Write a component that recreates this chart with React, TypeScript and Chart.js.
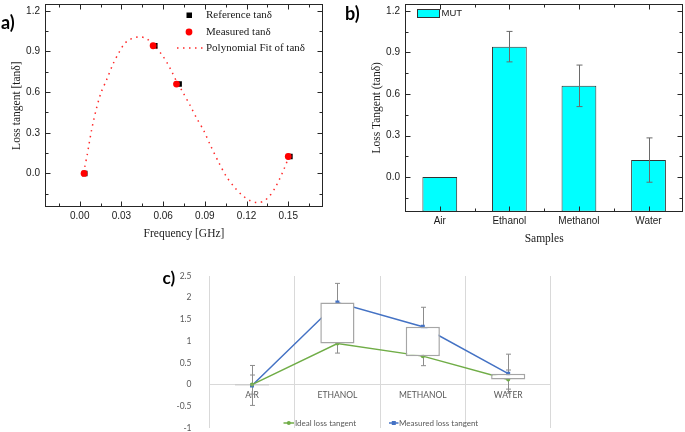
import React, { useEffect, useRef } from "react";
import { Chart, registerables } from "chart.js";
Chart.register(...registerables);

// ---------- Panel a) data ----------
const fitFreq = [0.0036, 0.0053, 0.0067, 0.0084, 0.0101, 0.012, 0.0137, 0.0156, 0.0192, 0.024, 0.0283, 0.0319, 0.0355, 0.0396, 0.0439, 0.048, 0.0528, 0.0595, 0.0629, 0.0665, 0.0696, 0.0744, 0.0792, 0.084, 0.0893, 0.0941, 0.1003, 0.1056, 0.1109, 0.1164, 0.1224, 0.1272, 0.132, 0.1363, 0.1404, 0.144, 0.1471, 0.150];
const fitTan = [0.048, 0.133, 0.217, 0.314, 0.398, 0.478, 0.543, 0.604, 0.688, 0.809, 0.893, 0.954, 0.985, 1.002, 1.007, 0.995, 0.954, 0.87, 0.815, 0.745, 0.68, 0.595, 0.505, 0.41, 0.314, 0.205, 0.075, -0.025, -0.097, -0.157, -0.2, -0.215, -0.206, -0.17, -0.109, -0.036, 0.036, 0.112];
const refFreq = [0.0036, 0.054, 0.0715, 0.1512];
const refTan = [0.0, 0.942, 0.659, 0.125];
const measFreq = [0.0031, 0.0528, 0.0696, 0.150];
const measTan = [0.0, 0.942, 0.659, 0.125];
const aXTicks = [0, 0.03, 0.06, 0.09, 0.12, 0.15];
const aXMinor = [-0.015, 0.015, 0.045, 0.075, 0.105, 0.135, 0.165];
const aYTicks = [0, 0.3, 0.6, 0.9, 1.2];
const aYMinor = [-0.15, 0.15, 0.45, 0.75, 1.05];

// ---------- Panel b) data ----------
const samples = ["Air", "Ethanol", "Methanol", "Water"];
const mutTan = [0, 0.942, 0.659, 0.123];
const mutErr = [0, 0.11, 0.15, 0.16];
const bYTicks = [0, 0.3, 0.6, 0.9, 1.2];
const bYMinor = [-0.15, 0.15, 0.45, 0.75, 1.05];
const bXMajor = [0, 1, 2, 3];
const bXMinor = [0.5, 1.5, 2.5];

// ---------- Panel c) data ----------
const cCategories = ["AIR", "ETHANOL", "METHANOL", "WATER"];
const idealTan = [0, 0.945, 0.655, 0.115];
const measuredTan = [-0.02, 1.89, 1.33, 0.25];
const idealErr = [0.22, 0.22, 0.22, 0.22];
const measuredErr = [0.46, 0.44, 0.45, 0.45];

const SERIF = "'Liberation Serif', 'Times New Roman', serif";
const SANS = "'Liberation Sans', Arial, sans-serif";
const CAL = "Lato, 'Open Sans', sans-serif";

const fixW = (w: number) => (s: any) => {
  s.width = w;
  s.paddingTop = 0; s.paddingBottom = 0; s.paddingLeft = 0; s.paddingRight = 0;
};
const fixH = (h: number) => (s: any) => {
  s.height = h;
  s.paddingTop = 0; s.paddingBottom = 0; s.paddingLeft = 0; s.paddingRight = 0;
};

function originFrame(xMajor: number[], xMinor: number[], yMajor: number[], yMinor: number[]) {
  return {
    id: "originFrame",
    afterDatasetsDraw(chart: any) {
      const { ctx, chartArea } = chart;
      const { left, right, top, bottom } = chartArea;
      const xs = chart.scales.x;
      const ys = chart.scales.y;
      ctx.save();
      ctx.strokeStyle = "#262626";
      ctx.lineWidth = 1;
      const L = Math.round(left) + 0.5, R = Math.round(right) - 0.5;
      const T = Math.round(top) + 0.5, B = Math.round(bottom) - 0.5;
      ctx.strokeRect(L, T, R - L, B - T);
      ctx.beginPath();
      const tick = (vals: number[], len: number) => {
        vals.forEach((v) => {
          const px = Math.round(xs.getPixelForValue(v)) + 0.5;
          ctx.moveTo(px, B); ctx.lineTo(px, B - len);
          ctx.moveTo(px, T); ctx.lineTo(px, T + len);
        });
      };
      const tickY = (vals: number[], len: number) => {
        vals.forEach((v) => {
          const py = Math.round(ys.getPixelForValue(v)) + 0.5;
          ctx.moveTo(L, py); ctx.lineTo(L + len, py);
          ctx.moveTo(R, py); ctx.lineTo(R - len, py);
        });
      };
      tick(xMajor, 5); tick(xMinor, 3);
      tickY(yMajor, 5); tickY(yMinor, 3);
      ctx.stroke();
      ctx.restore();
    },
  };
}

const legendA = {
  id: "legendA",
  afterDraw(chart: any) {
    const ctx = chart.ctx;
    ctx.save();
    ctx.font = `11px ${SERIF}`;
    ctx.textBaseline = "middle";
    ctx.textAlign = "left";
    ctx.fillStyle = "#000";
    ctx.fillRect(186.5, 12.5, 5.5, 5.5);
    ctx.fillStyle = "#1a1a1a";
    ctx.fillText("Reference tan\u03B4", 206, 15.5);
    ctx.fillStyle = "#ff0000";
    ctx.beginPath(); ctx.arc(189, 32, 3.4, 0, Math.PI * 2); ctx.fill();
    ctx.fillStyle = "#1a1a1a";
    ctx.fillText("Measured tan\u03B4", 206, 32.5);
    ctx.strokeStyle = "#ff2a2a";
    ctx.lineWidth = 1.5;
    ctx.setLineDash([1.5, 4.5]);
    ctx.beginPath(); ctx.moveTo(177, 48); ctx.lineTo(203, 48); ctx.stroke();
    ctx.setLineDash([]);
    ctx.fillText("Polynomial Fit of tan\u03B4", 206, 48.5);
    ctx.restore();
  },
};

const errorBarsB = {
  id: "errorBarsB",
  afterDatasetsDraw(chart: any) {
    const { ctx } = chart;
    const xs = chart.scales.x, ys = chart.scales.y;
    ctx.save();
    ctx.strokeStyle = "#6a6a6a";
    ctx.lineWidth = 1;
    ctx.beginPath();
    mutTan.forEach((v, i) => {
      const e = mutErr[i];
      if (!e) return;
      const x = Math.round(xs.getPixelForValue(i)) + 0.5;
      const y1 = ys.getPixelForValue(v + e), y2 = ys.getPixelForValue(v - e);
      ctx.moveTo(x, y1); ctx.lineTo(x, y2);
      ctx.moveTo(x - 3, y1); ctx.lineTo(x + 3, y1);
      ctx.moveTo(x - 3, y2); ctx.lineTo(x + 3, y2);
    });
    ctx.stroke();
    ctx.restore();
  },
};

const legendB = {
  id: "legendB",
  afterDraw(chart: any) {
    const ctx = chart.ctx;
    ctx.save();
    ctx.fillStyle = "#00ffff";
    ctx.strokeStyle = "#333";
    ctx.lineWidth = 1;
    ctx.fillRect(77.5, 9.5, 22, 8);
    ctx.strokeRect(77.5, 9.5, 22, 8);
    ctx.fillStyle = "#1a1a1a";
    ctx.font = `9.5px ${SANS}`;
    ctx.textBaseline = "middle";
    ctx.fillText("MUT", 101.5, 13.8);
    ctx.restore();
  },
};

const errorBarsC = {
  id: "errorBarsC",
  beforeDatasetsDraw(chart: any) {
    const { ctx } = chart;
    const xs = chart.scales.x, ys = chart.scales.y;
    ctx.save();
    ctx.strokeStyle = "#8c8c8c";
    ctx.lineWidth = 1;
    ctx.beginPath();
    const draw = (vals: number[], errs: number[]) => {
      vals.forEach((v, i) => {
        const x = Math.round(xs.getPixelForValue(i)) + 0.5;
        const y1 = ys.getPixelForValue(v + errs[i]), y2 = ys.getPixelForValue(v - errs[i]);
        ctx.moveTo(x, y1); ctx.lineTo(x, y2);
        ctx.moveTo(x - 2.5, y1); ctx.lineTo(x + 2.5, y1);
        ctx.moveTo(x - 2.5, y2); ctx.lineTo(x + 2.5, y2);
      });
    };
    draw(idealTan, idealErr);
    draw(measuredTan, measuredErr);
    ctx.stroke();
    ctx.restore();
  },
};

const legendC = {
  id: "legendC",
  afterDraw(chart: any) {
    const ctx = chart.ctx;
    ctx.save();
    ctx.lineWidth = 1.5;
    ctx.strokeStyle = "#70AD47";
    ctx.beginPath(); ctx.moveTo(133.5, 165); ctx.lineTo(144, 165); ctx.stroke();
    ctx.fillStyle = "#70AD47";
    ctx.beginPath(); ctx.arc(138.8, 165, 2, 0, Math.PI * 2); ctx.fill();
    ctx.strokeStyle = "#4472C4";
    ctx.beginPath(); ctx.moveTo(239, 165); ctx.lineTo(248.5, 165); ctx.stroke();
    ctx.fillStyle = "#4472C4";
    ctx.fillRect(241.8, 163, 4, 4);
    ctx.fillStyle = "#595959";
    ctx.font = `8px ${CAL}`;
    ctx.textBaseline = "middle";
    ctx.fillText("Ideal loss tangent", 145, 165.5);
    ctx.fillText("Measured loss tangent", 249, 165.5);
    ctx.restore();
  },
};

const configA = (): any => ({
  type: "scatter",
  data: {
    datasets: [
      {
        label: "Measured tan\u03B4",
        data: measFreq.map((x, i) => ({ x, y: measTan[i] })),
        pointStyle: "circle", pointRadius: 3.4, borderWidth: 0,
        backgroundColor: "#ff0000", borderColor: "#ff0000", order: 0,
      },
      {
        label: "Reference tan\u03B4",
        data: refFreq.map((x, i) => ({ x, y: refTan[i] })),
        pointStyle: "rect", pointRadius: 3.9, borderWidth: 0,
        backgroundColor: "#000", borderColor: "#000", order: 1,
      },
      {
        label: "Polynomial Fit of tan\u03B4",
        data: fitFreq.map((x, i) => ({ x, y: fitTan[i] })),
        showLine: true, pointRadius: 0, borderColor: "#ff2a2a", borderWidth: 1.5,
        borderDash: [1.5, 4.5], tension: 0.3, order: 2,
      },
    ],
  },
  options: {
    responsive: false,
    animation: false,
    layout: { padding: { top: 1, right: 17, bottom: 0, left: 0 } },
    plugins: { legend: { display: false }, tooltip: { enabled: false } },
    scales: {
      x: {
        type: "linear", min: -0.025, max: 0.175,
        afterBuildTicks: (s: any) => { s.ticks = aXTicks.map((v) => ({ value: v })); },
        afterFit: fixH(37.7),
        grid: { display: false, drawTicks: false },
        border: { display: false },
        ticks: { padding: 3.4, color: "#1a1a1a", font: { family: SANS, size: 10 }, callback: (v: any) => Number(v).toFixed(2) },
        title: { display: true, text: "Frequency [GHz]", color: "#1a1a1a", font: { family: SERIF, size: 11.5 }, padding: { top: 0, bottom: 4.1 } },
      },
      y: {
        type: "linear", min: -0.25, max: 1.25,
        afterBuildTicks: (s: any) => { s.ticks = aYTicks.map((v) => ({ value: v })); },
        afterFit: fixW(45),
        grid: { display: false, drawTicks: false },
        border: { display: false },
        ticks: { padding: 5, color: "#1a1a1a", font: { family: SANS, size: 10 }, callback: (v: any) => Number(v).toFixed(1) },
        title: { display: true, text: "Loss tangent [tan\u03B4]", color: "#1a1a1a", font: { family: SERIF, size: 11.5 }, padding: { top: 10, bottom: 0 } },
      },
    },
  },
  plugins: [originFrame(aXTicks, aXMinor, aYTicks, aYMinor), legendA],
});

const configB = (): any => ({
  type: "bar",
  data: {
    labels: samples,
    datasets: [
      {
        label: "MUT", data: mutTan, base: -0.25,
        backgroundColor: "#00ffff", borderColor: "#333", borderWidth: 1, borderSkipped: false,
        barPercentage: 0.5, categoryPercentage: 1,
      },
    ],
  },
  options: {
    responsive: false,
    animation: false,
    layout: { padding: { top: 4, right: 1.7, bottom: 0, left: 0 } },
    plugins: { legend: { display: false }, tooltip: { enabled: false } },
    scales: {
      x: {
        type: "category", offset: true,
        afterFit: fixH(38.3),
        grid: { display: false, drawTicks: false },
        border: { display: false },
        ticks: { padding: 3.3, color: "#1a1a1a", font: { family: SANS, size: 10 } },
        title: { display: true, text: "Samples", color: "#1a1a1a", font: { family: SERIF, size: 11.5 }, padding: { top: 0, bottom: 3.8 } },
      },
      y: {
        type: "linear", min: -0.25, max: 1.25,
        afterBuildTicks: (s: any) => { s.ticks = bYTicks.map((v) => ({ value: v })); },
        afterFit: fixW(65),
        grid: { display: false, drawTicks: false },
        border: { display: false },
        ticks: { padding: 5, color: "#1a1a1a", font: { family: SANS, size: 10 }, callback: (v: any) => Number(v).toFixed(1) },
        title: { display: true, text: "Loss Tangent (tan\u03B4)", color: "#1a1a1a", font: { family: SERIF, size: 11.5 }, padding: { top: 29.6, bottom: 0 } },
      },
    },
  },
  plugins: [errorBarsB, originFrame(bXMajor, bXMinor, bYTicks, bYMinor), legendB],
});

const configC = (): any => ({
  type: "bar",
  data: {
    labels: cCategories,
    datasets: [
      {
        type: "bar", label: "Up/down",
        data: idealTan.map((v, i) => [v, measuredTan[i]]),
        backgroundColor: "#ffffff", borderColor: "#a6a6a6", borderWidth: 1.5, borderSkipped: false,
        barPercentage: 0.4, categoryPercentage: 1, order: 0,
      },
      {
        type: "line", label: "Ideal loss tangent", data: idealTan,
        borderColor: "#70AD47", backgroundColor: "#70AD47", borderWidth: 1.5,
        pointStyle: "circle", pointRadius: 2, pointBorderWidth: 0, order: 1,
      },
      {
        type: "line", label: "Measured loss tangent", data: measuredTan,
        borderColor: "#4472C4", backgroundColor: "#4472C4", borderWidth: 1.5,
        pointStyle: "rect", pointRadius: 2.8, pointBorderWidth: 0, order: 1,
      },
    ],
  },
  options: {
    responsive: false,
    animation: false,
    layout: { padding: { top: 18, right: 134.1, bottom: 3, left: 0 } },
    plugins: { legend: { display: false }, tooltip: { enabled: false } },
    scales: {
      x: {
        type: "category", offset: true, position: { y: 0 },
        afterFit: fixH(0),
        grid: { display: true, offset: true, drawTicks: false, color: "#d9d9d9", lineWidth: 1 },
        border: { display: true, color: "#d9d9d9", width: 1 },
        ticks: { padding: 5.6, color: "#595959", font: { family: CAL, size: 8.5 } },
      },
      y: {
        type: "linear", min: -1, max: 2.5,
        afterFit: fixW(59.3),
        grid: { display: false, drawTicks: false },
        border: { display: false },
        ticks: { stepSize: 0.5, padding: 17.8, color: "#595959", font: { family: CAL, size: 8.5 }, callback: (v: any) => String(Math.round(Number(v) * 10) / 10) },
      },
    },
  },
  plugins: [errorBarsC, legendC],
});

function ChartCanvas(props: { config: () => any; left: number; top: number; width: number; height: number }) {
  const ref = useRef<HTMLCanvasElement>(null);
  useEffect(() => {
    const chart = new Chart(ref.current as HTMLCanvasElement, props.config());
    return () => chart.destroy();
  }, []);
  return (
    <canvas
      ref={ref}
      width={props.width}
      height={props.height}
      style={{ position: "absolute", left: props.left, top: props.top, width: props.width, height: props.height }}
    />
  );
}

const labelStyle = (left: number, top: number, size: number): React.CSSProperties => ({
  position: "absolute", left, top, fontFamily: CAL, fontWeight: 700, fontSize: size,
  lineHeight: 1, color: "#000", whiteSpace: "nowrap",
});

export default function App() {
  return (
    <div style={{ position: "fixed", left: 0, top: 0, width: 685, height: 432, background: "#fff", overflow: "hidden" }}>
      <ChartCanvas config={configA} left={0} top={0} width={340} height={245} />
      <ChartCanvas config={configB} left={340} top={0} width={345} height={250} />
      <ChartCanvas config={configC} left={150} top={258} width={535} height={174} />
      <div style={labelStyle(1, 12.5, 18)}>a)</div>
      <div style={labelStyle(345, 4, 18)}>b)</div>
      <div style={labelStyle(162.5, 269, 17)}>c)</div>
    </div>
  );
}
